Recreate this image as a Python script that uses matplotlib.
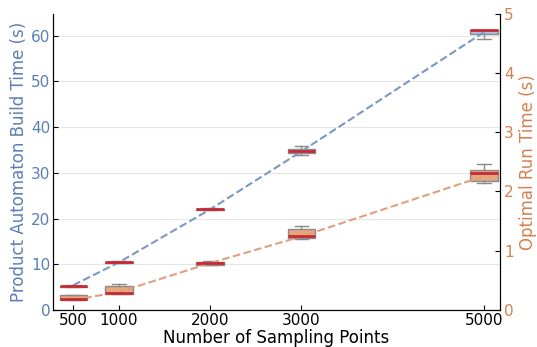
import matplotlib
matplotlib.use('Agg')
import matplotlib.pyplot as plt

# puntos de muestreo
puntos = [500, 1000, 2000, 3000, 5000]

# tiempo de construccion del automata producto (s)
build_lo = [5.0, 10.2, 21.8, 34.0, 59.3]
build_q1 = [5.1, 10.3, 21.9, 34.4, 60.5]
build_med = [5.2, 10.4, 22.0, 34.8, 61.2]
build_q3 = [5.3, 10.5, 22.1, 35.3, 61.2]
build_hi = [5.4, 10.6, 22.2, 35.8, 61.3]
build_mean = [5.4, 10.4, 22.0, 34.7, 60.8]

# tiempo de ejecucion optimo (s)
run_lo = [0.16, 0.26, 0.75, 1.20, 2.15]
run_q1 = [0.17, 0.27, 0.76, 1.22, 2.18]
run_med = [0.19, 0.29, 0.80, 1.25, 2.32]
run_q3 = [0.245, 0.41, 0.81, 1.37, 2.36]
run_hi = [0.25, 0.44, 0.82, 1.41, 2.47]
run_mean = [0.17, 0.30, 0.79, 1.24, 2.26]

azul = '#5a7fb5'
naranja = '#d5804f'


def estadisticas(lo, q1, med, q3, hi):
    """Arma la lista de diccionarios para bxp"""
    return [dict(whislo=a, q1=b, med=c, q3=d, whishi=e, fliers=[])
            for a, b, c, d, e in zip(lo, q1, med, q3, hi)]


fig, ax = plt.subplots(figsize=(5.37, 3.47), dpi=100)
ax2 = ax.twinx()

gris = dict(color='#8a8a8a', linewidth=1)
ax.bxp(estadisticas(build_lo, build_q1, build_med, build_q3, build_hi),
       positions=puntos, widths=300, patch_artist=True, showfliers=False,
       boxprops=dict(facecolor='#a9bfdf', edgecolor='#8a8a8a', linewidth=1),
       whiskerprops=gris, capprops=gris,
       medianprops=dict(color='#c62b35', linewidth=2), manage_ticks=False)
ax.plot(puntos, build_mean, '--', color='#7b98c2', linewidth=1.5)

ax2.bxp(estadisticas(run_lo, run_q1, run_med, run_q3, run_hi),
        positions=puntos, widths=300, patch_artist=True, showfliers=False,
        boxprops=dict(facecolor='#e8a67f', edgecolor='#8a8a8a', linewidth=1),
        whiskerprops=gris, capprops=gris,
        medianprops=dict(color='#c62b35', linewidth=2), manage_ticks=False)
ax2.plot(puntos, run_mean, '--', color='#e0a07f', linewidth=1.5)

ax.set_xlim(280, 5175)
ax.set_ylim(0, 64.8)
ax2.set_ylim(0, 5)
ax.set_xticks(puntos)
ax.set_xticklabels([str(p) for p in puntos], fontsize=11)
ax.set_yticks(range(0, 70, 10))
ax2.set_yticks(range(0, 6))

ax.yaxis.grid(True, color='#e6e6e6', linewidth=0.8)
ax.set_axisbelow(True)

ax.tick_params(axis='both', direction='in', labelsize=11, pad=2)
ax.tick_params(axis='y', colors='black', labelcolor=azul)
ax2.tick_params(axis='y', direction='in', labelsize=11, labelcolor=naranja,
                pad=3)

ax.set_xlabel('Number of Sampling Points', fontsize=12, labelpad=1)
ax.set_ylabel('Product Automaton Build Time (s)', fontsize=12, color=azul,
              labelpad=2)
ax2.set_ylabel('Optimal Run Time (s)', fontsize=12, color=naranja,
               labelpad=4)

ax.spines['top'].set_visible(False)
ax2.spines['top'].set_visible(False)

fig.subplots_adjust(left=0.099, right=0.931, bottom=0.107, top=0.96)
fig.savefig('out.png')
